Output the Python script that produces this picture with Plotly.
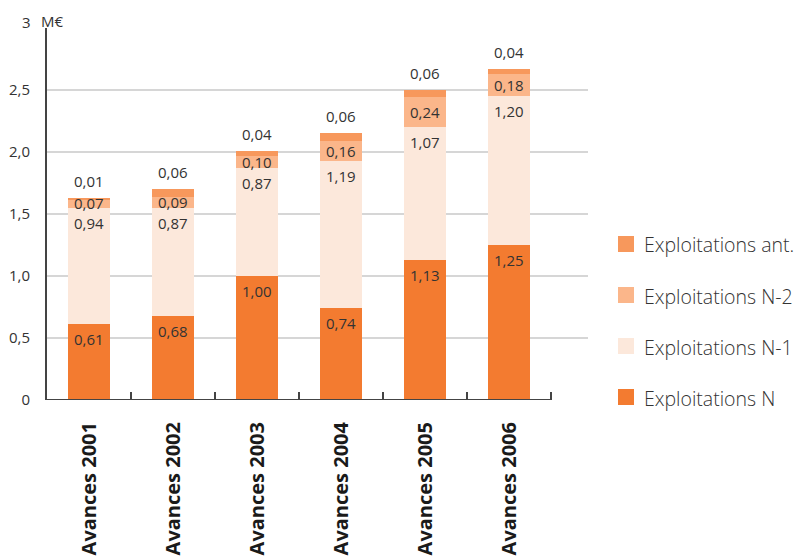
import plotly.graph_objects as go

categories = ["Avances 2001", "Avances 2002", "Avances 2003",
              "Avances 2004", "Avances 2005", "Avances 2006"]
expl_n = [0.61, 0.68, 1.00, 0.74, 1.13, 1.25]
expl_n1 = [0.94, 0.87, 0.87, 1.19, 1.07, 1.20]
expl_n2 = [0.07, 0.09, 0.10, 0.16, 0.24, 0.18]
expl_ant = [0.01, 0.06, 0.04, 0.06, 0.06, 0.04]

y_tick_vals = [0, 0.5, 1.0, 1.5, 2.0, 2.5, 3]
y_tick_text = ["0", "0,5", "1,0", "1,5", "2,0", "2,5", ""]

series = [
    ("Exploitations N", expl_n, "#F37B30"),
    ("Exploitations N-1", expl_n1, "#FCE8DB"),
    ("Exploitations N-2", expl_n2, "#FBB68A"),
    ("Exploitations ant.", expl_ant, "#F7985C"),
]

FONT = "Open Sans"
TXT = "#333333"

# plot area in pixels
L, R, T, B = 47, 588, 28, 400


def px_x(px):
    return (px - L) / (R - L)


def px_y(py):
    return (B - py) / (B - T)


def fr(v):
    return f"{v:.2f}".replace(".", ",")


fig = go.Figure()
for name, vals, color in series:
    fig.add_trace(go.Bar(
        x=categories, y=vals, name=name,
        marker=dict(color=color, line=dict(width=0)),
        hoverinfo="skip", showlegend=False,
    ))

# value labels placed from the stacked values
annotations = []
lab_font = dict(family=FONT, size=15, color=TXT)
for j, cat in enumerate(categories):
    base = 0.0
    for k, (name, vals, color) in enumerate(series):
        v = vals[j]
        top = base + v
        if k in (0, 1):
            annotations.append(dict(x=cat, y=top, text=fr(v), showarrow=False,
                                    yanchor="middle", yshift=-15, font=lab_font))
        elif k == 2:
            annotations.append(dict(x=cat, y=base + v / 2, text=fr(v), showarrow=False,
                                    yanchor="middle", font=lab_font))
        else:
            annotations.append(dict(x=cat, y=top, text=fr(v), showarrow=False,
                                    yanchor="middle", yshift=17, font=lab_font))
        base = top

# unit label at the top of the value axis
annotations.append(dict(xref="paper", yref="paper", x=px_x(33), y=px_y(22),
                        xanchor="right", yanchor="middle", text="3", showarrow=False,
                        font=lab_font))
annotations.append(dict(xref="paper", yref="paper", x=px_x(39), y=px_y(21),
                        xanchor="left", yanchor="middle", text="M€", showarrow=False,
                        font=lab_font))

shapes = [
    # baseline under the categories
    dict(type="line", xref="x", yref="y", x0=-0.5, x1=5.5, y0=0, y1=0,
         line=dict(color="#444444", width=2)),
]

# legend, top entry first
legend_rows = [(series[3], 244), (series[2], 295), (series[1], 346), (series[0], 397)]
for (name, vals, color), cy in legend_rows:
    shapes.append(dict(type="rect", xref="paper", yref="paper",
                       x0=px_x(618), x1=px_x(634), y0=px_y(cy + 8), y1=px_y(cy - 8),
                       fillcolor=color, line=dict(width=0)))
    annotations.append(dict(xref="paper", yref="paper", x=px_x(642), y=px_y(cy + 1),
                            xanchor="left", yanchor="middle", text=name, showarrow=False,
                            font=dict(family=FONT, size=19.5, color=TXT, weight=300)))

fig.update_layout(
    width=800, height=557,
    margin=dict(l=L, r=800 - R, t=T, b=557 - B),
    paper_bgcolor="white", plot_bgcolor="white",
    barmode="stack", bargap=0.51,
    font=dict(family=FONT, color=TXT),
    showlegend=False,
    annotations=annotations,
    shapes=shapes,
)

fig.update_xaxes(
    range=[-0.5, 5.94], showgrid=False, zeroline=False, showline=False,
    tickson="boundaries", ticks="inside", ticklen=8, tickwidth=1.5, tickcolor="#444444",
    tickangle=-90,
    tickfont=dict(family=FONT, size=20, color="#1a1a1a", weight="bold"),
    ticklabelstandoff=17, automargin=False,
)
fig.update_yaxes(
    range=[0, 3], tickvals=y_tick_vals, ticktext=y_tick_text,
    showgrid=True, gridcolor="#d6d6d6", gridwidth=1.5,
    zeroline=False, showline=True, linecolor="#444444", linewidth=2,
    ticks="", ticklabelstandoff=12, automargin=False,
    tickfont=dict(family=FONT, size=15, color=TXT),
)

fig.write_html("out.html")
